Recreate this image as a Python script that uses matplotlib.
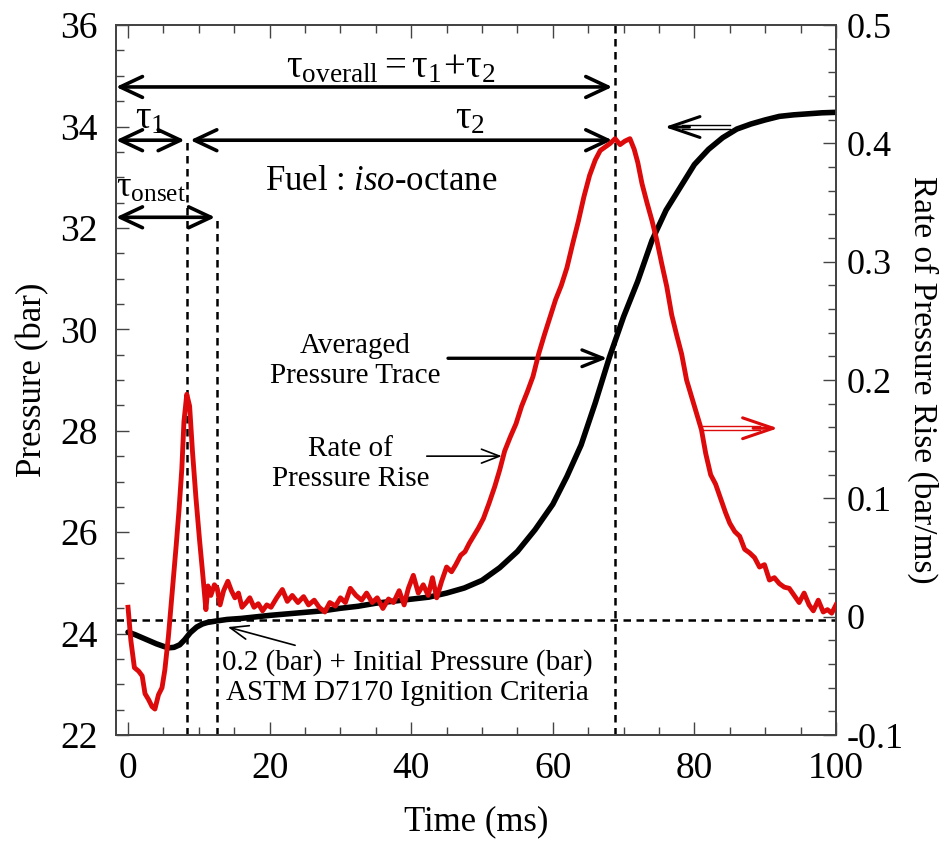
import numpy as np
import matplotlib.pyplot as plt
from matplotlib.ticker import MultipleLocator
from matplotlib.transforms import offset_copy

plt.rcParams['font.family'] = ['Liberation Serif', 'DejaVu Serif']
plt.rcParams['mathtext.fontset'] = 'custom'
plt.rcParams['mathtext.rm'] = 'Liberation Serif'
plt.rcParams['mathtext.it'] = 'Liberation Serif:italic'
plt.rcParams['mathtext.default'] = 'rm'

# averaged pressure trace (bar) vs time (ms)
p_time = [0, 1, 2, 3, 4, 5, 5.7, 6.5, 7.3, 8.0, 8.8, 9.7, 10.5, 11.2, 12.5, 14, 16, 18,
          20, 22.5, 25, 27.5, 30, 32.5, 35, 37.5, 40, 42.5, 45, 47.5, 50, 52.5, 55, 57.5,
          60, 62, 64, 66, 68, 70, 72, 74, 76, 78, 80, 82, 84, 86, 88, 90, 92, 94, 96, 98, 100]
p_bar = [24.03, 23.98, 23.92, 23.86, 23.80, 23.75, 23.72, 23.73, 23.78, 23.88, 24.02, 24.13,
         24.19, 24.22, 24.25, 24.28, 24.30, 24.33, 24.36, 24.39, 24.42, 24.45, 24.50, 24.54,
         24.60, 24.64, 24.68, 24.72, 24.80, 24.90, 25.05, 25.30, 25.62, 26.05, 26.55, 27.10,
         27.72, 28.55, 29.45, 30.25, 30.95, 31.75, 32.35, 32.80, 33.25, 33.55, 33.78, 33.95,
         34.05, 34.13, 34.20, 34.23, 34.25, 34.27, 34.28]

# rate of pressure rise (bar/ms)
r_time = [0.0, 0.4, 0.9, 1.5, 2.0, 2.4, 2.9, 3.4, 3.8, 4.3, 4.8, 5.2, 5.7, 6.3, 6.8, 7.2,
          7.6, 7.9, 8.3, 8.7, 9.1, 9.6, 10.1, 10.6, 11.0, 11.3, 11.7, 12.2, 12.6, 13.0, 13.5,
          14.1, 14.6, 15.1, 15.6, 16.1, 16.7, 17.2, 17.8, 18.4, 19.0, 19.6, 20.2, 21.0, 21.8,
          22.5, 23.2, 24.0, 24.8, 25.5, 26.3, 27.0, 27.8, 28.5, 29.3, 30.0, 30.7, 31.4, 32.2,
          33.0, 33.7, 34.5, 35.2, 36.0, 36.8, 37.5, 38.3, 39.0, 39.6, 40.3, 41.0, 41.7, 42.4,
          43.0, 43.6, 44.3, 45.0, 45.7, 46.3, 47.0, 47.6, 48.2, 48.8, 49.5, 50.2, 51.0, 51.8,
          52.5, 53.2, 54.0, 54.8, 55.6, 56.4, 57.2, 58.0, 58.8, 59.6, 60.4, 61.2, 62.0, 62.8,
          63.6, 64.4, 65.2, 66.0, 66.7, 67.4, 68.1, 68.8, 69.5, 70.2, 70.9, 71.5, 72.0, 72.6,
          73.3, 74.0, 74.7, 75.4, 76.1, 76.8, 77.5, 78.2, 78.9, 79.6, 80.3, 81.0, 81.6, 82.3,
          83.0, 83.7, 84.4, 85.0, 85.7, 86.4, 87.1, 87.8, 88.5, 89.2, 89.9, 90.6, 91.3, 92.0,
          92.7, 93.4, 94.1, 94.8, 95.5, 96.2, 96.8, 97.5, 98.2, 98.8, 99.4, 100.0]
r_rate = [0.008, -0.020, -0.043, -0.046, -0.050, -0.065, -0.070, -0.076, -0.078, -0.066,
          -0.060, -0.045, -0.017, 0.025, 0.060, 0.090, 0.125, 0.165, 0.188, 0.178, 0.140,
          0.100, 0.065, 0.033, 0.006, 0.026, 0.018, 0.027, 0.024, 0.010, 0.022, 0.030, 0.022,
          0.016, 0.020, 0.008, 0.012, 0.016, 0.008, 0.011, 0.005, 0.010, 0.008, 0.016, 0.023,
          0.013, 0.018, 0.012, 0.017, 0.010, 0.014, 0.008, 0.004, 0.012, 0.009, 0.016, 0.012,
          0.024, 0.018, 0.014, 0.020, 0.012, 0.016, 0.007, 0.015, 0.012, 0.022, 0.010, 0.024,
          0.035, 0.020, 0.027, 0.018, 0.033, 0.016, 0.030, 0.042, 0.038, 0.044, 0.052, 0.055,
          0.062, 0.068, 0.075, 0.083, 0.096, 0.110, 0.124, 0.140, 0.152, 0.163, 0.178, 0.190,
          0.203, 0.222, 0.238, 0.253, 0.268, 0.280, 0.295, 0.315, 0.334, 0.355, 0.373, 0.386,
          0.394, 0.397, 0.400, 0.404, 0.399, 0.402, 0.404, 0.395, 0.384, 0.366, 0.350, 0.335,
          0.318, 0.298, 0.279, 0.255, 0.238, 0.222, 0.200, 0.186, 0.172, 0.158, 0.138, 0.120,
          0.112, 0.100, 0.088, 0.079, 0.072, 0.068, 0.057, 0.054, 0.050, 0.042, 0.044, 0.031,
          0.033, 0.028, 0.025, 0.024, 0.018, 0.012, 0.020, 0.010, 0.005, 0.014, 0.004, 0.006,
          0.003, 0.010]

p_ticks = [22, 24, 26, 28, 30, 32, 34, 36]
r_ticks = [-0.1, 0, 0.1, 0.2, 0.3, 0.4, 0.5]
r_labels = ['-0.1', '0', '0.1', '0.2', '0.3', '0.4', '0.5']
t_ticks = [0, 20, 40, 60, 80, 100]

p_crit = 24.26      # 0.2 bar + initial pressure
t_tau1 = 8.3
t_onset = 12.5
t_overall = 68.8

red = '#dc0a0a'
xl = -1.7

fig = plt.figure(figsize=(9.43, 8.42), dpi=100)
ax = fig.add_axes([0.123, 0.127, 0.7635, 0.8432])
ax2 = ax.twinx()

ax.plot(p_time, p_bar, color='black', lw=4, solid_capstyle='round', zorder=3)
ax2.plot(r_time, r_rate, color=red, lw=3.5, zorder=3)

ax.set_xlim(xl, 100)
ax.set_ylim(22, 36)
ax2.set_ylim(-0.1, 0.5)

# dashed guide lines
ax.axhline(p_crit, color='black', lw=1.8, dashes=(3, 2.2))
ax.axvline(t_overall, color='black', lw=1.8, dashes=(3, 2.2))
ax.plot([t_tau1, t_tau1], [22, 33.73], color='black', lw=1.8, dashes=(3, 2.2))
ax.plot([t_onset, t_onset], [22, 32.21], color='black', lw=1.8, dashes=(3, 2.2))

# time arrows
tau_style = dict(arrowstyle='<->,head_length=1.6,head_width=0.75', lw=2.6, color='black',
                 shrinkA=0, shrinkB=0)
ax.annotate('', xy=(xl, 34.78), xytext=(68.4, 34.78), arrowprops=tau_style, annotation_clip=False)
ax.annotate('', xy=(xl, 33.73), xytext=(8.0, 33.73), arrowprops=tau_style, annotation_clip=False)
ax.annotate('', xy=(8.8, 33.73), xytext=(68.4, 33.73), arrowprops=tau_style)
ax.annotate('', xy=(xl, 32.21), xytext=(12.3, 32.21), arrowprops=tau_style, annotation_clip=False)

ax.text(37.1, 34.97, r'$\tau_{\mathrm{overall}}= \tau_1\!+\!\tau_2$', fontsize=28,
        ha='center', va='baseline')
ax.text(3.1, 33.97, r'$\tau_1$', fontsize=28, ha='center', va='baseline')
ax.text(48.3, 33.97, r'$\tau_2$', fontsize=28, ha='center', va='baseline')
ax.text(3.25, 32.61, r'$\tau_{\mathrm{onset}}$', fontsize=26, ha='center', va='baseline')
ax.text(35.7, 32.75, r'Fuel : $\mathit{iso}$-octane', fontsize=25, ha='center', va='baseline')

# labelled pointers
ax.text(32.1, 29.37, 'Averaged\nPressure Trace', fontsize=21, ha='center', va='center')
ax.annotate('', xy=(67.7, 29.43), xytext=(45.2, 29.43),
            arrowprops=dict(arrowstyle='->,head_length=1.5,head_width=0.6', lw=2.4,
                            color='black', shrinkA=0, shrinkB=0))
ax.text(31.4, 27.34, 'Rate of\nPressure Rise', fontsize=21, ha='center', va='center')
ax.annotate('', xy=(52.8, 27.5), xytext=(42.2, 27.5),
            arrowprops=dict(arrowstyle='->,head_length=1.3,head_width=0.5', lw=1.2,
                            color='black', shrinkA=0, shrinkB=0))
ax.text(39.5, 23.14, '0.2 (bar) + Initial Pressure (bar)\nASTM D7170 Ignition Criteria',
        fontsize=21, ha='center', va='center')
ax.annotate('', xy=(14.1, 24.13), xytext=(23.6, 23.77),
            arrowprops=dict(arrowstyle='->,head_length=1.3,head_width=0.5', lw=1.2,
                            color='black', shrinkA=0, shrinkB=0))


def axis_arrow(x_tail, x_tip, y, color):
    # hollow double-shaft arrow showing which axis a curve belongs to
    back = 1 if x_tip > x_tail else -1
    for dy in (-2.2, 2.2):
        tr = offset_copy(ax.transData, fig=fig, y=dy, units='dots')
        ax.plot([x_tail, x_tip - back * 2.5], [y, y], color=color, lw=1.0, transform=tr)
    ax.annotate('', xy=(x_tip, y), xytext=(x_tip - back * 3.5, y),
                arrowprops=dict(arrowstyle='->,head_length=2.2,head_width=0.75', lw=2.2,
                                color=color, shrinkA=0, shrinkB=0))


axis_arrow(85.0, 75.8, 33.99, 'black')
axis_arrow(81.2, 91.8, 28.05, red)

# axes styling
ax.set_xticks(t_ticks)
ax.set_yticks(p_ticks)
ax.xaxis.set_minor_locator(MultipleLocator(5))
ax.yaxis.set_minor_locator(MultipleLocator(0.5))
ax2.set_yticks(r_ticks)
ax2.set_yticklabels(r_labels)
ax2.yaxis.set_minor_locator(MultipleLocator(0.02))

ax.tick_params(which='both', direction='in', top=True, right=False, width=1.0,
               color='#444444', labelsize=27)
ax.tick_params(which='major', length=9.5)
ax.tick_params(which='minor', length=5.5)
ax.tick_params(axis='y', pad=13)
ax.tick_params(axis='x', pad=12)
ax2.tick_params(which='both', direction='in', width=1.0, color='#444444', labelsize=26, pad=8)
ax2.tick_params(which='major', length=9.5)
ax2.tick_params(which='minor', length=5.5)

for a in (ax, ax2):
    for s in a.spines.values():
        s.set_color('#444444')
        s.set_linewidth(1.3)

ax.set_xlabel('Time (ms)', fontsize=25, labelpad=14)
ax.set_ylabel('Pressure (bar)', fontsize=25, labelpad=8)
ax2.set_ylabel('Rate of Pressure Rise (bar/ms)', fontsize=24, rotation=270, labelpad=2,
               va='bottom')

fig.savefig('out.png', dpi=100)
